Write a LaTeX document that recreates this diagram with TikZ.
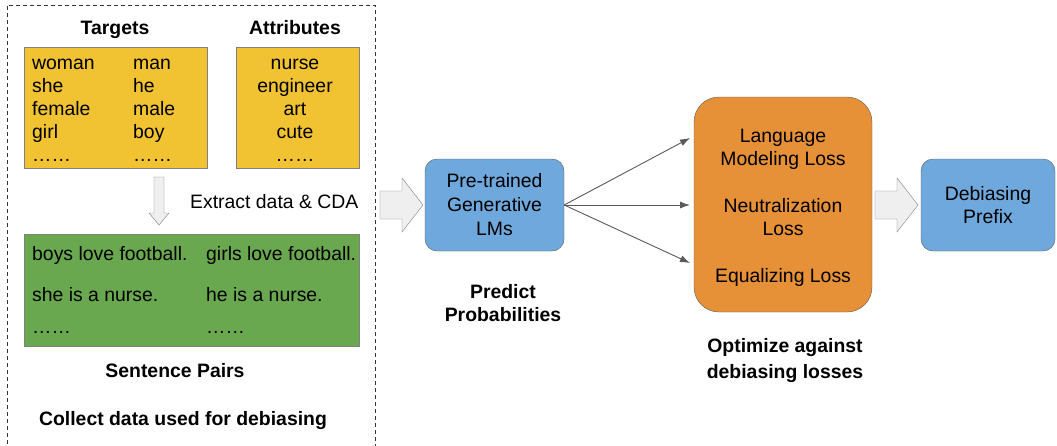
\documentclass[tikz,border=0pt]{standalone}
\usepackage{fontspec}
\setmainfont{Liberation Sans}
\usetikzlibrary{positioning,calc,arrows.meta}
\definecolor{yel}{HTML}{F1C232}
\definecolor{grn}{HTML}{6AA84F}
\definecolor{blu}{HTML}{6FA8DC}
\definecolor{org}{HTML}{E69138}
\definecolor{edge}{HTML}{595959}
\definecolor{pale}{HTML}{EFEFEF}
\newcommand{\rows}[2][c]{\begin{tabular}[t]{@{}#1@{}}#2\end{tabular}}

\begin{document}
\begin{tikzpicture}[x=1pt,y=-1pt,
	every node/.style={font=\fontsize{19.4}{23}\selectfont},
	lbl/.style={anchor=base,inner sep=0},
	lblw/.style={anchor=base west,inner sep=0},
	head/.style={lbl,font=\fontsize{19.4}{23}\selectfont\bfseries},
	sqbox/.style={draw=gray,inner sep=0},
	rbox/.style={draw=edge,align=center,inner sep=0},
	fat/.style={draw=gray,fill=pale,line join=miter},
	thin/.style={draw=edge,line width=0.9,-{Latex[length=10pt,width=7pt]}}]
	\useasboundingbox (0,0) rectangle (1057,445);
	% data collection
	\node[draw=black!80,dash pattern=on 4pt off 3pt,minimum width=368,minimum height=460] (frame) at (191,235) {};
	\node[head] (tgthead) at (115,34) {Targets};
	\node[head] (atthead) at (295,34) {Attributes};
	\node[sqbox,fill=yel,minimum width=183,minimum height=121] (tgt) at (115.5,107.5) {};
	\node[sqbox,fill=yel,minimum width=123,minimum height=121] (att) at (297.5,107.5) {};
	\node[lblw] (fem) at (32,69) {\rows[l]{woman\\she\\female\\girl\\……}};
	\node[lblw] (mal) at (133,69) {\rows[l]{man\\he\\male\\boy\\……}};
	\node[lbl] (words) at (295,69) {\rows{nurse\\engineer\\art\\cute\\……}};
	\draw[fat] (154,177) -- (164,177) -- (164,213) -- (169,213) -- (159,225) -- (149,213) -- (154,213) -- cycle;
	\node[lblw] (cda) at (190,208) {Extract data \& CDA};
	\node[sqbox,fill=grn,minimum width=335,minimum height=112] (pairs) at (191.5,290) {};
	\node[lblw] (sa) at (32,260) {\rows[l]{boys love football.\\[18pt]she is a nurse.\\[9pt]……}};
	\node[lblw] (sb) at (206,260) {\rows[l]{girls love football.\\[18pt]he is a nurse.\\[9pt]……}};
	\node[head] (pairhead) at (175,377) {Sentence Pairs};
	\node[head] (collect) at (183,425) {Collect data used for debiasing};
	% model and losses
	\draw[fat] (380,191) -- ++(22,0) -- ++(0,-13) -- ++(21,27) -- ++(-21,27) -- ++(0,-13) -- ++(-22,0) -- cycle;
	\node[rbox,fill=blu,rounded corners=12,minimum width=139,minimum height=92] (lm) at (494.5,205) {Pre-trained\\[1pt]Generative\\[1pt]LMs};
	\node[head] (predict) at (503,298) {\rows{Predict\\Probabilities}};
	\node[rbox,fill=org,rounded corners=25,minimum width=178,minimum height=215] (loss) at (783,204.5) {};
	\node[lbl] (losstext) at (783,142) {\rows{Language\\Modeling Loss\\[24pt]Neutralization\\Loss\\[24pt]Equalizing Loss}};
	\node[head] (optim) at (785,352) {\rows{Optimize against\\[3pt]debiasing losses}};
	\coordinate (t1) at (690,138);
	\coordinate (t2) at (690,205);
	\coordinate (t3) at (690,263);
	\draw[thin] (lm.east) -- (t1);
	\draw[thin] (lm.east) -- (t2);
	\draw[thin] (lm.east) -- (t3);
	\draw[fat] (875,191) -- ++(22,0) -- ++(0,-13) -- ++(21,27) -- ++(-21,27) -- ++(0,-13) -- ++(-22,0) -- cycle;
	\node[rbox,fill=blu,rounded corners=12,minimum width=134,minimum height=92] (prefix) at (988,205) {Debiasing\\Prefix};
\end{tikzpicture}
\end{document}
